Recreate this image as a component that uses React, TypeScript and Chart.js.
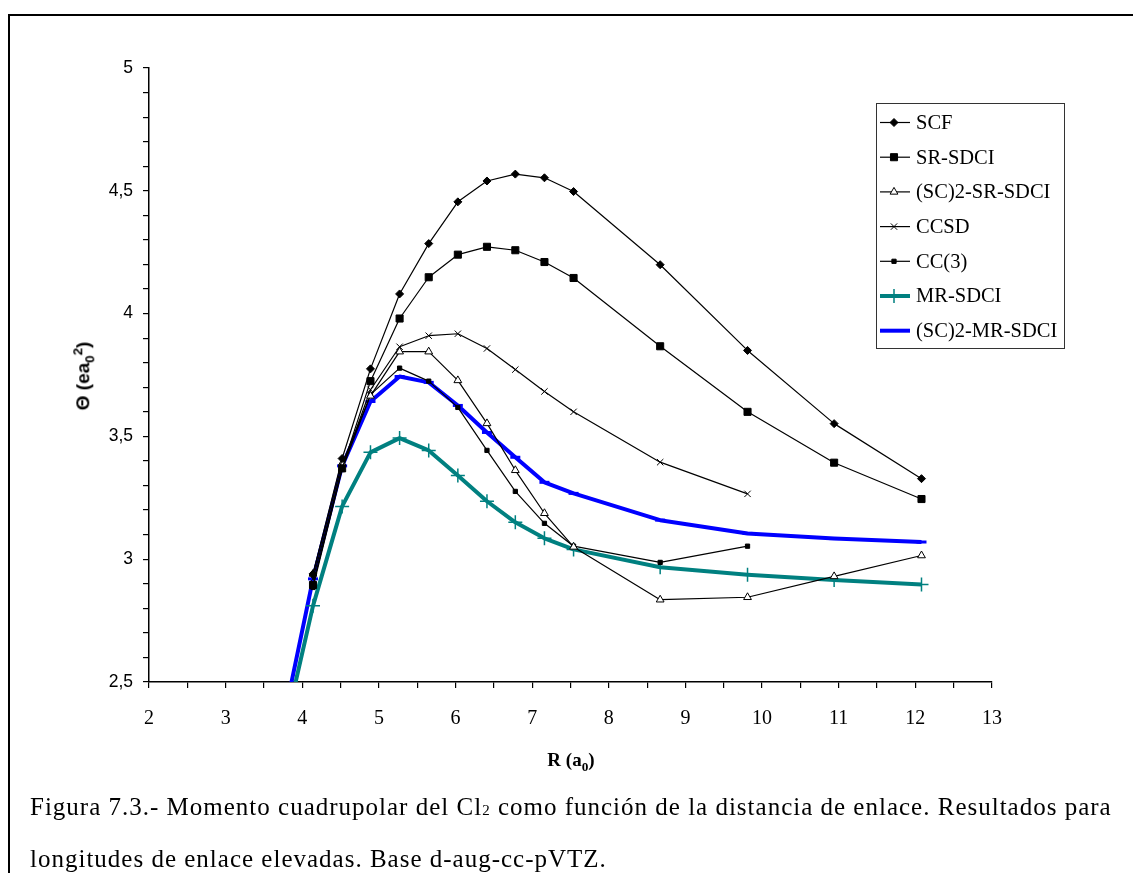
import React, { useEffect, useRef } from 'react';
import { Chart, registerables } from 'chart.js';
import { drawPoint } from 'chart.js/helpers';

Chart.register(...registerables);

// ---- data ----
const R_FULL = [4.14, 4.52, 4.89, 5.27, 5.65, 6.03, 6.41, 6.78, 7.16, 7.54, 8.67, 9.81, 10.94, 12.08];
const R_SHORT = [4.14, 4.52, 4.89, 5.27, 5.65, 6.03, 6.41, 6.78, 7.16, 7.54, 8.67, 9.81];
const R_EXT = [3.76, 4.14, 4.52, 4.89, 5.27, 5.65, 6.03, 6.41, 6.78, 7.16, 7.54, 8.67, 9.81, 10.94, 12.08];

const SCF = [2.94, 3.41, 3.775, 4.08, 4.285, 4.455, 4.54, 4.568, 4.553, 4.497, 4.199, 3.85, 3.552, 3.328];
const SR_SDCI = [2.895, 3.37, 3.725, 3.98, 4.148, 4.24, 4.272, 4.258, 4.21, 4.145, 3.867, 3.6, 3.393, 3.245];
const SC2_SR_SDCI = [2.94, 3.39, 3.665, 3.845, 3.845, 3.728, 3.553, 3.362, 3.187, 3.05, 2.835, 2.845, 2.93, 3.015];
const CCSD = [2.92, 3.37, 3.69, 3.865, 3.91, 3.918, 3.858, 3.772, 3.683, 3.6, 3.395, 3.266];
const CC3 = [2.885, 3.365, 3.67, 3.778, 3.725, 3.618, 3.443, 3.276, 3.146, 3.053, 2.987, 3.053];
const MR_SDCI = [2.29, 2.81, 3.215, 3.435, 3.493, 3.443, 3.341, 3.236, 3.15, 3.085, 3.04, 2.967, 2.937, 2.915, 2.897];
const SC2_MR_SDCI = [2.35, 2.92, 3.38, 3.642, 3.744, 3.72, 3.626, 3.516, 3.415, 3.313, 3.268, 3.159, 3.105, 3.084, 3.07];

const X_TICKS = [2, 2.5, 3, 3.5, 4, 4.5, 5, 5.5, 6, 6.5, 7, 7.5, 8, 8.5, 9, 9.5, 10, 10.5, 11, 11.5, 12, 12.5, 13];
const Y_TICKS = [2.5, 2.6, 2.7, 2.8, 2.9, 3, 3.1, 3.2, 3.3, 3.4, 3.5, 3.6, 3.7, 3.8, 3.9, 4, 4.1, 4.2, 4.3, 4.4, 4.5, 4.6, 4.7, 4.8, 4.9, 5];

const pts = (xs: number[], ys: number[]) => ys.map((y, i) => ({ x: xs[i], y }));
const isMultiple = (v: number, step: number) => Math.abs(v / step - Math.round(v / step)) < 1e-6;

const SERIF = '"Liberation Serif", "Times New Roman", serif';
const SANS = '"Liberation Sans", Arial, sans-serif';

const legendPlugin = {
  id: 'boxLegend',
  afterDraw(chart: any) {
    const ctx = chart.ctx as CanvasRenderingContext2D;
    const left = 876, top = 103, right = 1064, bottom = 348;
    ctx.save();
    ctx.fillStyle = '#ffffff';
    ctx.fillRect(left, top, right - left, bottom - top);
    ctx.strokeStyle = '#333333';
    ctx.lineWidth = 1;
    ctx.strokeRect(left + 0.5, top + 0.5, right - left, bottom - top);
    chart.data.datasets.forEach((ds: any, i: number) => {
      const y = top + 19.5 + i * 34.7;
      ctx.strokeStyle = ds.borderColor;
      ctx.lineWidth = ds.borderWidth;
      ctx.beginPath();
      ctx.moveTo(880, y);
      ctx.lineTo(910, y);
      ctx.stroke();
      if (ds.legendMarker !== false) {
        ctx.fillStyle = ds.pointBackgroundColor;
        ctx.strokeStyle = ds.pointBorderColor;
        ctx.lineWidth = ds.pointBorderWidth;
        drawPoint(ctx, { pointStyle: ds.pointStyle, radius: ds.pointRadius, borderWidth: ds.pointBorderWidth, rotation: 0 } as any, 894, y);
      }
      ctx.fillStyle = '#000';
      ctx.font = `20.5px ${SERIF}`;
      ctx.textAlign = 'left';
      ctx.textBaseline = 'middle';
      ctx.fillText(ds.label, 916, y + 1);
    });
    ctx.restore();
  },
};

export default function App() {
  const ref = useRef<HTMLCanvasElement | null>(null);

  useEffect(() => {
    if (!ref.current) return;
    const thin = (label: string, xs: number[], ys: number[], style: string, radius: number, fill: string) => ({
      label,
      data: pts(xs, ys),
      borderColor: '#000',
      borderWidth: 1.2,
      pointStyle: style,
      pointRadius: radius,
      pointBackgroundColor: fill,
      pointBorderColor: '#000',
      pointBorderWidth: 1,
      tension: 0,
    });
    const chart = new Chart(ref.current, {
      type: 'line',
      data: {
        datasets: [
          thin('SCF', R_FULL, SCF, 'rectRot', 4, '#000'),
          thin('SR-SDCI', R_FULL, SR_SDCI, 'rect', 5, '#000'),
          thin('(SC)2-SR-SDCI', R_FULL, SC2_SR_SDCI, 'triangle', 4.5, '#fff'),
          thin('CCSD', R_SHORT, CCSD, 'crossRot', 4.5, '#000'),
          thin('CC(3)', R_SHORT, CC3, 'rect', 3, '#000'),
          {
            label: 'MR-SDCI',
            data: pts(R_EXT, MR_SDCI),
            borderColor: '#008080',
            borderWidth: 4,
            pointStyle: 'cross',
            pointRadius: 7,
            pointBackgroundColor: '#008080',
            pointBorderColor: '#008080',
            pointBorderWidth: 1.5,
            tension: 0,
          },
          {
            label: '(SC)2-MR-SDCI',
            data: pts(R_EXT, SC2_MR_SDCI),
            borderColor: '#0000ff',
            borderWidth: 4,
            pointStyle: 'line',
            pointRadius: 5,
            pointBackgroundColor: '#0000ff',
            pointBorderColor: '#0000ff',
            pointBorderWidth: 3,
            tension: 0,
            legendMarker: false,
          } as any,
        ],
      },
      options: {
        animation: false,
        responsive: false,
        devicePixelRatio: 1,
        layout: { padding: { left: 0, top: 68, right: 141, bottom: 121 } },
        plugins: { legend: { display: false }, tooltip: { enabled: false }, title: { display: false } },
        elements: { line: { borderJoinStyle: 'round' } },
        scales: {
          x: {
            type: 'linear',
            min: 2,
            max: 13,
            afterBuildTicks: (s: any) => { s.ticks = X_TICKS.map((v) => ({ value: v })); },
            afterFit: (s: any) => { s.height = 70; },
            ticks: {
              autoSkip: false,
              maxRotation: 0,
              padding: 19,
              color: '#000',
              font: { family: SERIF, size: 20 },
              callback: (v: any) => (isMultiple(Number(v), 1) ? String(v) : ''),
            },
            grid: { drawOnChartArea: false, drawTicks: true, tickLength: 6, color: '#000', lineWidth: 1.2 },
            border: { display: true, color: '#000', width: 1.5 },
          },
          y: {
            type: 'linear',
            min: 2.5,
            max: 5,
            afterBuildTicks: (s: any) => { s.ticks = Y_TICKS.map((v) => ({ value: v })); },
            afterFit: (s: any) => { s.width = 149; },
            ticks: {
              autoSkip: false,
              padding: 10,
              color: '#000',
              font: { family: SANS, size: 17.5 },
              callback: (v: any) => {
                const n = Number(v);
                return isMultiple(n, 0.5) ? String(Math.round(n * 10) / 10).replace('.', ',') : '';
              },
            },
            grid: { drawOnChartArea: false, drawTicks: true, tickLength: 6, color: '#000', lineWidth: 1.2 },
            border: { display: true, color: '#000', width: 1.5 },
          },
        },
      } as any,
      plugins: [legendPlugin],
    });
    return () => chart.destroy();
  }, []);

  return (
    <div style={{ position: 'fixed', left: 0, top: 0, width: 1133, height: 873, overflow: 'hidden', background: '#fff' }}>
      <div
        style={{
          position: 'absolute', left: 8, top: 14, width: 1200, height: 1000,
          borderLeft: '2px solid #000', borderTop: '2px solid #000',
        }}
      />
      <canvas ref={ref} width={1133} height={873} style={{ position: 'absolute', left: 0, top: 0 }} />
      <div
        style={{
          position: 'absolute', left: 84, top: 376, transform: 'translate(-50%, -50%) rotate(-90deg)',
          whiteSpace: 'nowrap', fontFamily: SANS, fontWeight: 'bold', fontSize: 19, lineHeight: 1,
        }}
      >
        Θ (ea<sub style={{ fontSize: '0.7em' }}>0</sub><sup style={{ fontSize: '0.7em' }}>2</sup>)
      </div>
      <div
        style={{
          position: 'absolute', left: 571, top: 762, transform: 'translate(-50%, -50%)',
          whiteSpace: 'nowrap', fontFamily: SERIF, fontWeight: 'bold', fontSize: 19, lineHeight: 1,
        }}
      >
        R (a<sub style={{ fontSize: '0.7em' }}>0</sub>)
      </div>
      <div
        style={{
          position: 'absolute', left: 30, top: 794, whiteSpace: 'nowrap',
          fontFamily: SERIF, fontSize: 25, lineHeight: 1, letterSpacing: 1.0,
        }}
      >
        Figura 7.3.- Momento cuadrupolar del Cl<span style={{ fontSize: '0.6em' }}>2</span> como función de la distancia de enlace. Resultados para
      </div>
      <div
        style={{
          position: 'absolute', left: 30, top: 846, whiteSpace: 'nowrap',
          fontFamily: SERIF, fontSize: 25, lineHeight: 1, letterSpacing: 1.0,
        }}
      >
        longitudes de enlace elevadas. Base d-aug-cc-pVTZ.
      </div>
    </div>
  );
}
